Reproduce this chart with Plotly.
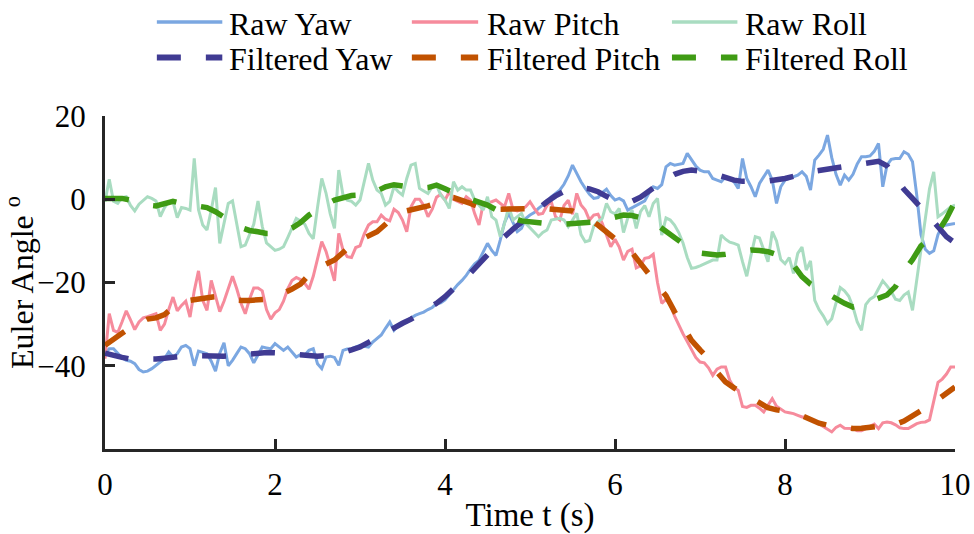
import numpy as np
import plotly.graph_objects as go

# Sampling grids (raw sensor at 20 Hz, filtered estimate at 10 Hz)
t_raw = np.round(np.arange(201) * 0.05, 2)
t_filt = np.round(np.arange(101) * 0.1, 1)

raw_yaw = [
    -37.1, -35.9, -35.9, -37.1, -38.1, -38.7, -38.9, -39.5, -40.9, -41.5,
    -41.3, -40.7, -39.9, -39.0, -38.3, -36.7, -37.9, -37.1, -35.5, -35.1,
    -35.9, -40.0, -36.5, -36.8, -37.1, -38.9, -41.3, -37.0, -34.5, -40.0,
    -38.7, -37.1, -35.5, -35.9, -37.1, -39.3, -37.5, -35.5, -35.7, -35.9,
    -34.7, -35.5, -36.3, -35.5, -36.7, -37.9, -37.3, -37.5, -36.3, -35.9,
    -39.5, -40.7, -37.9, -37.7, -38.0, -39.9, -36.3, -36.0, -35.9, -35.5,
    -35.1, -35.3, -35.5, -34.3, -33.4, -32.6, -31.0, -29.5, -31.5, -30.3,
    -29.8, -29.1, -28.5, -27.9, -27.5, -27.1, -26.5, -26.0, -25.1, -24.9,
    -24.2, -22.9, -21.7, -20.5, -19.5, -18.3, -16.8, -15.5, -14.7, -12.5,
    -10.6, -12.3, -13.5, -9.8, -5.6, -3.4, -5.5, -7.8, -7.0, -4.6,
    -3.8, -3.2, -2.2, -1.4, -0.6, 0.6, 1.5, 2.2, 3.6, 5.6,
    8.2, 6.0, 4.2, 2.6, 1.2, 0.2, 0.4, 1.6, 2.4, 0.9,
    -0.2, 0.2, -0.4, -2.6, -2.0, -1.6, -1.0, -0.4, 1.5, 3.0,
    2.6, 3.5, 7.8, 8.6, 8.2, 8.4, 8.6, 11.0, 9.5, 8.0,
    7.0, 6.6, 6.6, 5.0, 4.6, 4.2, 5.4, 5.0, 4.2, 2.6,
    9.8, 5.0, 3.0, 0.6, 3.8, 5.5, 7.0, 4.6, -1.0, 3.0,
    4.6, 5.0, 5.4, 5.8, 6.6, 5.5, 2.2, 9.4, 10.6, 12.0,
    15.4, 10.0, 6.0, 3.4, 5.8, 4.6, 6.0, 8.5, 10.2, 10.2,
    10.4, 11.5, 13.4, 3.0, 8.2, 9.6, 9.8, 9.8, 11.4, 10.8,
    9.0, 1.0, -8.5, -12.0, -13.0, -12.4, -8.5, -6.4, -6.2, -6.0, -5.8,
]

raw_pitch = [
    -38.3, -27.5, -31.5, -32.0, -29.5, -26.8, -29.0, -31.3, -29.5, -28.5,
    -28.2, -27.8, -27.5, -31.5, -30.0, -26.5, -23.5, -26.8, -25.5, -24.5,
    -28.3, -22.0, -17.2, -24.3, -26.7, -19.5, -23.5, -27.0, -24.5, -21.5,
    -18.5, -21.5, -25.0, -27.5, -24.0, -21.3, -21.3, -22.0, -26.5, -28.8,
    -27.3, -26.5, -24.5, -21.5, -19.5, -18.8, -19.3, -20.2, -21.6, -18.5,
    -14.0, -10.2, -12.5, -16.0, -19.6, -8.2, -12.2, -13.8, -14.0, -11.6,
    -11.2, -8.3, -6.2, -5.4, -5.4, -3.8, -4.8, -5.2, -2.4, -3.2,
    -5.0, -7.8, -1.8, 0.0, 0.0, -1.5, -4.2, -2.4, 0.5, 1.2,
    -0.2, 1.8, 0.0, -0.5, -1.0, 0.6, -0.2, -3.5, -6.2, -1.0,
    -0.8, -0.6, -0.2, -1.0, -1.8, 1.4, -2.5, -2.8, -2.5, -1.8,
    -0.6, -2.2, -3.6, -3.4, -1.5, -0.6, -4.2, -5.0, -1.5, -0.2,
    -3.6, 1.4, -1.4, -2.6, -5.0, -3.8, -3.6, -5.8, -8.5, -11.4,
    -9.6, -11.5, -14.6, -12.5, -12.0, -16.5, -16.0, -14.2, -14.0, -13.2,
    -20.0, -25.0, -24.0, -25.3, -28.0, -30.3, -32.3, -34.2, -36.3, -38.0,
    -39.1, -39.3, -40.5, -42.3, -40.8, -40.3, -40.3, -43.5, -45.2, -45.9,
    -49.8, -50.0, -49.5, -49.5, -50.2, -51.1, -49.5, -47.9, -49.7, -50.5,
    -51.1, -51.3, -51.5, -51.9, -52.3, -52.3, -52.7, -53.3, -53.9, -54.5,
    -55.3, -55.9, -54.8, -54.3, -55.0, -55.1, -55.1, -55.6, -55.6, -55.1,
    -54.5, -54.0, -55.1, -53.7, -53.5, -53.7, -54.2, -54.9, -55.1, -55.1,
    -54.5, -53.9, -53.6, -53.5, -53.0, -48.5, -44.0, -43.2, -42.0, -40.3, -40.3,
]

raw_roll = [
    -0.6, 4.8, -0.5, -1.0, 0.4, 0.6, -1.5, -2.8, -1.2, -0.2,
    0.6, 0.2, -0.4, -4.2, -2.0, -0.6, -0.6, -4.4, -2.0, -2.2,
    -2.6, 9.8, -2.5, -6.2, -7.4, -2.6, 2.8, -10.6, -6.0, -1.0,
    -0.4, -6.0, -11.4, -11.0, -8.5, -6.0, -0.4, -6.5, -10.5, -11.4,
    -12.3, -12.0, -11.4, -9.2, -6.8, -4.6, -5.2, -6.0, -8.2, -9.5,
    -2.0, 5.0, 1.5, -3.5, -7.0, 7.0, 1.0, -0.2, -0.5, -1.4,
    -0.2, 4.0, 8.6, 4.6, 2.2, 1.4, -1.4, -0.5, 3.0, 1.8,
    1.0, 5.0, 8.2, 8.6, 2.6, 2.0, 1.4, 3.0, 3.4, 1.0,
    -0.2, -2.2, 4.2, 2.2, 3.0, 2.2, 2.2, -0.2, -1.5, -2.6,
    0.6, -4.2, -5.0, -9.0, -5.8, -1.8, -5.0, -4.2, -3.4, -5.8,
    -6.8, -7.8, -9.0, -8.0, -7.4, -5.0, -4.8, -4.6, -5.0, -6.6,
    -5.0, -3.4, -8.5, -10.2, -9.9, -6.5, -5.4, -4.6, -1.0, -3.0,
    -3.5, -2.2, -8.0, -4.5, -2.6, -7.0, -3.0, -1.5, -4.2, -1.0,
    0.2, -8.6, -4.5, -5.0, -6.2, -8.0, -10.5, -14.0, -16.6, -16.4,
    -16.0, -15.5, -15.0, -14.6, -14.6, -8.6, -9.6, -10.3, -10.6, -11.0,
    -15.0, -18.5, -13.5, -9.0, -9.3, -12.0, -15.0, -7.8, -10.0, -14.5,
    -15.5, -14.0, -17.8, -13.0, -11.5, -17.0, -14.8, -24.3, -26.5, -28.0,
    -29.9, -28.7, -25.0, -21.2, -22.0, -23.3, -25.9, -29.5, -31.5, -25.3,
    -24.0, -23.4, -21.5, -19.6, -20.8, -22.2, -24.0, -24.3, -23.0, -22.3,
    -26.7, -19.5, -13.0, -5.0, 2.5, 6.6, -4.2, -3.5, -2.6, -1.8, -1.4,
]

filt_yaw = [
    -37.0, -37.6, -38.0, -38.4, -38.5, -38.5, -38.4, -38.2, -37.9, -37.6,
    -37.5, -37.6, -37.7, -37.7, -37.7, -37.6, -37.4, -37.1, -36.9, -36.8,
    -36.9, -37.1, -37.4, -37.6, -37.7, -37.7, -37.6, -37.3, -36.8, -36.2,
    -35.5, -34.4, -33.2, -32.0, -30.9, -29.8, -28.8, -27.6, -26.4, -25.0,
    -23.4, -21.6, -19.7, -17.7, -15.5, -13.2, -11.0, -9.0, -7.2, -5.5,
    -3.8, -2.1, -0.6, 0.8, 1.9, 2.5, 2.7, 2.5, 1.8, 0.7,
    -0.3, -0.8, -0.5, 0.5, 2.0, 3.5, 4.9, 6.0, 6.7, 7.0,
    6.9, 6.5, 5.9, 5.2, 4.6, 4.3, 4.2, 4.3, 4.4, 4.6,
    5.0, 5.5, 6.1, 6.6, 6.9, 7.2, 7.5, 7.8, 8.1, 8.5,
    8.9, 9.1, 8.0, 5.2, 2.4, 0.2, -1.8, -4.2, -6.6, -9.0, -10.5,
]

filt_pitch = [
    -35.1, -33.8, -32.2, -30.8, -29.8, -28.8, -28.5, -27.7, -26.0, -24.8,
    -24.3, -24.0, -23.6, -23.4, -23.6, -24.0, -24.3, -24.3, -24.2, -24.0,
    -23.5, -22.7, -21.6, -20.4, -18.1, -16.5, -15.6, -14.6, -12.8, -11.0,
    -9.8, -8.8, -7.8, -6.0, -4.0, -3.0, -2.6, -2.2, -1.6, -1.0,
    0.3, 0.4, -0.2, -1.0, -1.8, -2.3, -2.4, -2.3, -2.2, -2.2,
    -2.2, -2.2, -2.3, -2.4, -2.5, -2.8, -3.8, -4.8, -6.2, -7.8,
    -9.2, -10.8, -12.8, -15.4, -18.0, -20.5, -23.2, -27.0, -30.7, -33.9,
    -36.2, -38.3, -41.5, -43.9, -45.3, -46.5, -47.6, -48.9, -50.1, -50.6,
    -50.8, -51.2, -52.0, -53.0, -53.8, -54.3, -54.6, -55.1, -55.1, -55.0,
    -54.8, -54.6, -54.4, -54.1, -53.3, -52.2, -50.8, -49.6, -48.2, -46.6, -45.1,
]

filt_roll = [
    0.2, 0.3, 0.2, -0.2, -0.8, -1.4, -1.6, -1.0, -0.5, -1.0,
    -1.3, -1.6, -2.0, -3.0, -4.4, -5.6, -6.8, -7.5, -7.8, -8.2,
    -8.2, -7.8, -6.9, -5.6, -3.8, -2.4, -1.2, -0.2, 0.5, 0.9,
    1.0, 1.3, 2.0, 3.0, 3.5, 3.2, 2.8, 2.6, 2.8, 3.4,
    2.5, 1.4, 0.6, 0.0, -0.6, -1.4, -2.5, -3.6, -4.5, -5.2,
    -5.5, -5.8, -6.0, -6.1, -6.0, -5.8, -5.7, -5.6, -5.4, -4.8,
    -4.2, -3.8, -3.9, -4.3, -5.0, -6.2, -7.7, -9.2, -11.0, -12.2,
    -12.9, -13.2, -13.4, -13.2, -12.8, -12.3, -12.2, -12.3, -12.6, -13.3,
    -14.2, -15.8, -18.6, -20.4, -21.6, -22.6, -23.7, -25.0, -25.9, -25.5,
    -24.6, -23.8, -23.0, -21.0, -17.3, -14.5, -11.2, -9.6, -7.8, -4.6, -0.6,
]

x_ticks = [0, 2, 4, 6, 8, 10]
y_ticks = [-40, -20, 0, 20]

FONT = "Liberation Serif"
AXIS_COLOR = "#262626"
DASH = "24px,25px"

# name, x, y, colour, width, dash
series = [
    ("Raw Yaw", t_raw, raw_yaw, "#7ba7e1", 3, "solid"),
    ("Raw Pitch", t_raw, raw_pitch, "#f68b9c", 3, "solid"),
    ("Raw Roll", t_raw, raw_roll, "#a9dcc1", 3, "solid"),
    ("Filtered Yaw", t_filt, filt_yaw, "#403b93", 5.5, DASH),
    ("Filtered Pitch", t_filt, filt_pitch, "#c15200", 5.5, DASH),
    ("Filtered Roll", t_filt, filt_roll, "#3f9b14", 5.5, DASH),
]

fig = go.Figure()
for name, x, y, color, width, dash in series:
    fig.add_trace(go.Scatter(
        x=x, y=y, mode="lines", name=name, showlegend=False,
        line=dict(color=color, width=width, dash=dash),
    ))

# Two-row legend above the axes, drawn with paper-referenced shapes + text
legend_rows = [1.282, 1.176]
legend_cols = [(0.061, 0.138, 0.1435), (0.361, 0.439, 0.4465), (0.667, 0.744, 0.75)]
for i, (name, _, _, color, width, dash) in enumerate(series):
    row, col = divmod(i, 3)
    x0, x1, xt = legend_cols[col]
    yr = legend_rows[row]
    fig.add_shape(type="line", xref="paper", yref="paper",
                  x0=x0, x1=x1, y0=yr, y1=yr,
                  line=dict(color=color, width=width + 0.5, dash=dash))
    fig.add_annotation(xref="paper", yref="paper", x=xt, y=yr - 0.006,
                       text=name, showarrow=False, xanchor="left",
                       yanchor="middle", font=dict(family=FONT, size=32, color="black"))

axis_common = dict(
    showline=True, linewidth=3, linecolor=AXIS_COLOR, mirror=False,
    showgrid=False, zeroline=False, automargin=False,
    ticks="inside", ticklen=10, tickwidth=3, tickcolor=AXIS_COLOR,
    tickfont=dict(family=FONT, size=31, color="black"),
)

fig.update_layout(
    width=974, height=534,
    margin=dict(l=105, r=19, t=116, b=85),
    paper_bgcolor="white", plot_bgcolor="white",
    font=dict(family=FONT, color="black"),
    xaxis=dict(range=[0, 10], tickvals=x_ticks, ticklabelstandoff=6,
               title=dict(text="Time t (s)", font=dict(family=FONT, size=33), standoff=4),
               **axis_common),
    yaxis=dict(range=[-60, 20], tickvals=y_ticks, ticklabelstandoff=10,
               title=dict(text="Euler Angle <sup>o</sup>", font=dict(family=FONT, size=32), standoff=2),
               **axis_common),
)

fig.write_html("out.html")
